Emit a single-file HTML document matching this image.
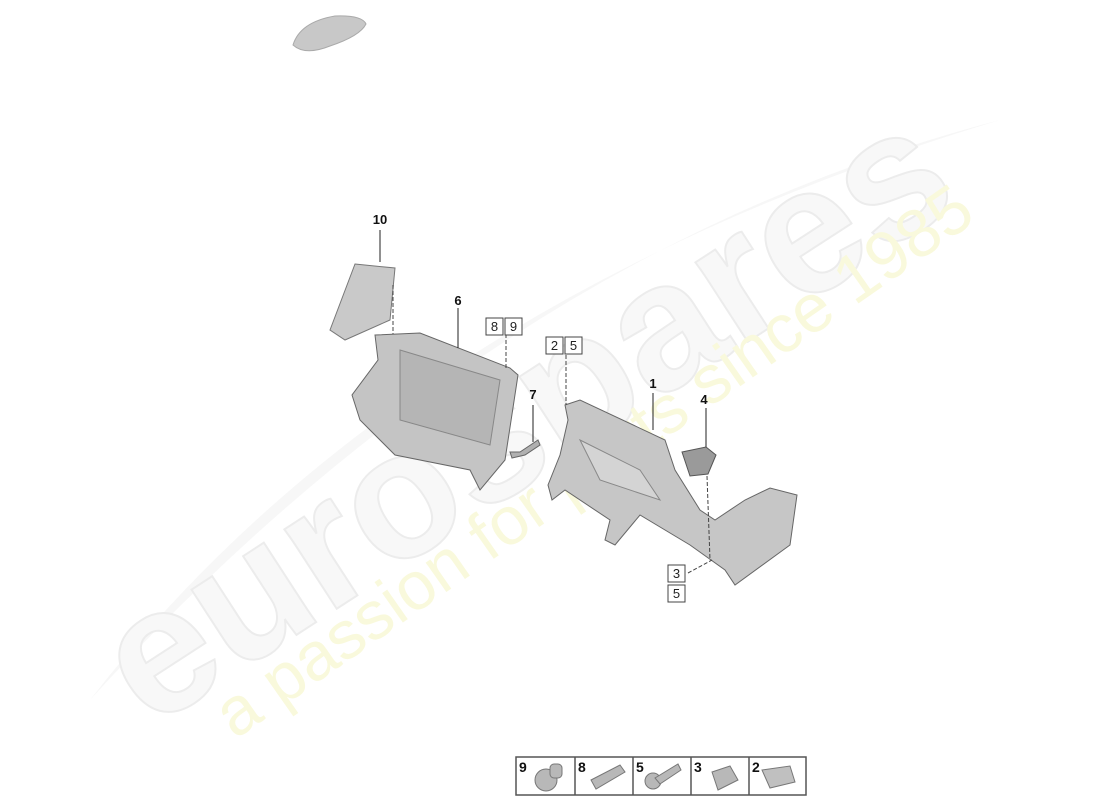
<!DOCTYPE html>
<html><head><meta charset="utf-8"><style>
html,body{margin:0;padding:0;background:#fff;}
svg{display:block;font-family:"Liberation Sans",Arial,sans-serif;}
</style></head><body>
<svg width="1100" height="800" viewBox="0 0 1100 800" xmlns="http://www.w3.org/2000/svg">
<rect width="1100" height="800" fill="#fff"/>
<!-- watermark -->
<path d="M90 700 Q400 300 1000 120 Q500 250 90 700Z" fill="#f7f7f7"/>
<text x="0" y="0" transform="translate(150,730) rotate(-33)" font-size="180" font-weight="bold" fill="#f8f8f8" stroke="#ececec" stroke-width="2">eurospares</text>
<text x="0" y="0" transform="translate(235,740) rotate(-35)" font-size="68" fill="#f9f9dc">a passion for parts since 1985</text>
<!-- car -->
<path d="M293 45 Q300 22 335 16 Q362 15 366 24 Q360 36 330 46 Q305 56 293 45Z" fill="#c8c8c8" stroke="#aaa"/>
<!-- part 10 -->
<polygon points="355,264 395,268 390,320 345,340 330,330" fill="#c9c9c9" stroke="#777"/>
<line x1="380" y1="230" x2="380" y2="262" stroke="#222"/>
<line x1="393" y1="285" x2="393" y2="335" stroke="#444" stroke-dasharray="4,2"/>
<!-- part 6 -->
<polygon points="375,335 420,333 510,368 518,375 505,460 480,490 470,470 395,455 360,420 352,395 378,360" fill="#c4c4c4" stroke="#666"/>
<polygon points="400,350 500,380 490,445 400,420" fill="#b5b5b5" stroke="#888"/>
<line x1="458" y1="308" x2="458" y2="348" stroke="#222"/>
<line x1="506" y1="334" x2="506" y2="370" stroke="#444" stroke-dasharray="4,2"/>
<!-- part 7 -->
<polygon points="512,458 525,455 540,445 538,440 520,452 510,452" fill="#b0b0b0" stroke="#666"/>
<line x1="533" y1="405" x2="533" y2="442" stroke="#222"/>
<!-- part 1 -->
<polygon points="565,405 580,400 665,440 675,470 700,510 715,520 745,500 770,488 797,495 790,545 735,585 725,570 690,545 640,515 615,545 605,540 610,520 565,490 552,500 548,485 560,455 568,420" fill="#c6c6c6" stroke="#666"/>
<polygon points="580,440 640,470 660,500 600,480" fill="#d4d4d4" stroke="#888"/>
<line x1="566" y1="355" x2="566" y2="405" stroke="#444" stroke-dasharray="4,2"/>
<line x1="653" y1="393" x2="653" y2="430" stroke="#222"/>
<!-- part 4 -->
<polygon points="682,452 706,447 716,455 708,474 690,476" fill="#9a9a9a" stroke="#555"/>
<line x1="706" y1="408" x2="706" y2="447" stroke="#222"/>
<line x1="707" y1="476" x2="710" y2="560" stroke="#444" stroke-dasharray="4,2"/>
<line x1="688" y1="573" x2="712" y2="560" stroke="#444" stroke-dasharray="4,2"/>
<!-- labels -->
<g font-size="13" font-weight="bold" fill="#111" text-anchor="middle">
<text x="380" y="224">10</text><text x="458" y="305">6</text>
<text x="533" y="399">7</text><text x="653" y="388">1</text><text x="704" y="404">4</text>
</g>
<g font-size="13" fill="#222" text-anchor="middle" stroke="none">
<rect x="486" y="318" width="17" height="17" fill="#fff" stroke="#444"/><text x="494.5" y="331">8</text>
<rect x="505" y="318" width="17" height="17" fill="#fff" stroke="#444"/><text x="513.5" y="331">9</text>
<rect x="546" y="337" width="17" height="17" fill="#fff" stroke="#444"/><text x="554.5" y="350">2</text>
<rect x="565" y="337" width="17" height="17" fill="#fff" stroke="#444"/><text x="573.5" y="350">5</text>
<rect x="668" y="565" width="17" height="17" fill="#fff" stroke="#444"/><text x="676.5" y="578">3</text>
<rect x="668" y="585" width="17" height="17" fill="#fff" stroke="#444"/><text x="676.5" y="598">5</text>
</g>
<!-- legend -->
<rect x="516" y="757" width="290" height="38" fill="#fff" stroke="#555" stroke-width="1.5"/>
<g stroke="#555" stroke-width="1.5"><line x1="575" y1="757" x2="575" y2="795"/><line x1="633" y1="757" x2="633" y2="795"/><line x1="691" y1="757" x2="691" y2="795"/><line x1="749" y1="757" x2="749" y2="795"/></g>
<g font-size="14" font-weight="bold" fill="#111"><text x="519" y="772">9</text><text x="578" y="772">8</text><text x="636" y="772">5</text><text x="694" y="772">3</text><text x="752" y="772">2</text></g>
<g fill="#b8b8b8" stroke="#777">
<ellipse cx="546" cy="780" rx="11" ry="11"/><rect x="550" y="764" width="12" height="14" rx="4"/>
<polygon points="591,780 620,765 625,772 596,789"/>
<circle cx="653" cy="781" r="8"/><polygon points="655,778 678,764 681,770 660,784"/>
<polygon points="712,772 730,766 738,780 718,790"/>
<path d="M762 770 L790 766 L795 782 L770 788Z" fill="#c0c0c0"/>
</g>
</svg>
</body></html>
